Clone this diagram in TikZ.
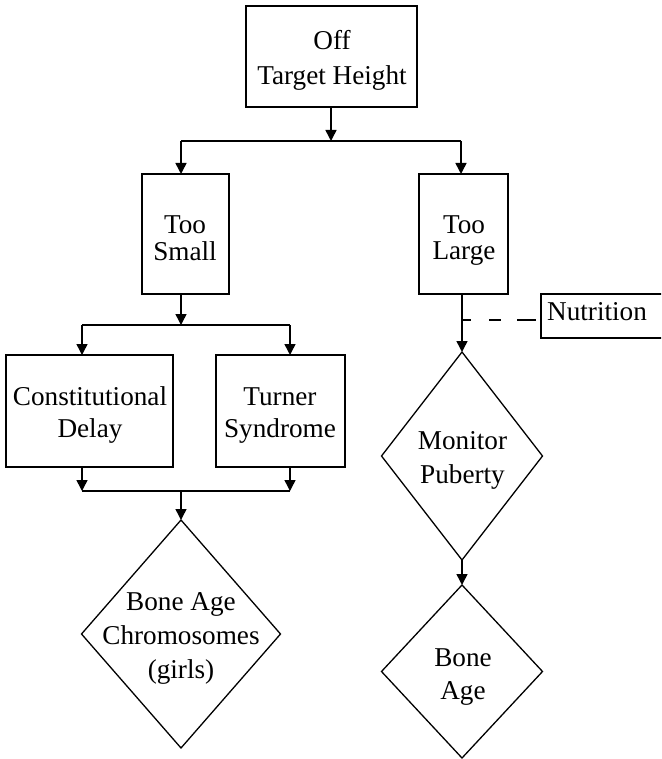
\documentclass[tikz,border=0pt]{standalone}
\usepackage{fontspec}
\setmainfont{Liberation Serif}
\usetikzlibrary{shapes.geometric,arrows.meta}
\begin{document}
\begin{tikzpicture}[x=1pt,y=-1pt,
  box/.style={draw,line width=1.8pt,inner sep=0pt,outer sep=0pt},
  dia/.style={diamond,draw,line width=1.3pt,inner sep=0pt,outer sep=0pt},
  txt/.style={inner sep=0pt,align=center,anchor=base,font=\fontsize{27.2}{34}\selectfont},
  arr/.style={line width=1.5pt,-{Triangle[length=11pt,width=11pt]}},
  ln/.style={line width=1.5pt}]
\useasboundingbox (0,0) rectangle (661,759);
\clip (0,0) rectangle (661,759);
% boxes
\node[box,minimum width=171pt,minimum height=101pt] (top) at (331.5,56.5) {};
\node[txt,font=\fontsize{27.2}{35}\selectfont] (topt) at (332,85) {Off\\Target Height};
\node[box,minimum width=87pt,minimum height=120pt] (small) at (185.5,234) {};
\node[txt,font=\fontsize{27.2}{27}\selectfont] (smallt) at (185,260) {Too\\Small};
\node[box,minimum width=89pt,minimum height=120pt] (large) at (463.5,234) {};
\node[txt,font=\fontsize{27.2}{26}\selectfont] (larget) at (464,259) {Too\\Large};
\node[box,minimum width=167pt,minimum height=112pt] (const) at (89.5,411) {};
\node[txt,font=\fontsize{27.2}{32}\selectfont] (constt) at (90,437) {Constitutional\\Delay};
\node[box,minimum width=129pt,minimum height=112pt] (turner) at (280.5,411) {};
\node[txt,font=\fontsize{27.2}{32}\selectfont] (turnert) at (280,437) {Turner\\Syndrome};
\node[box,minimum width=130pt,minimum height=44pt] (nutr) at (606,316) {};
\node[txt] (nutrt) at (597,320) {Nutrition};
% diamonds
\node[dia,minimum width=199pt,minimum height=228pt] (bac) at (181,634) {};
\node[txt,font=\fontsize{27.2}{34}\selectfont] (bact) at (181,678) {Bone Age\\Chromosomes\\(girls)};
\node[dia,minimum width=161pt,minimum height=208pt] (mp) at (462,456) {};
\node[txt] (mpt) at (462.5,483) {Monitor\\Puberty};
\node[dia,minimum width=161pt,minimum height=173pt] (ba) at (462,671.5) {};
\node[txt,font=\fontsize{27.2}{33}\selectfont] (bat) at (463,699) {Bone\\Age};
% junction coordinates
\coordinate (j1) at (331,141);
\coordinate (j1l) at (181,141);
\coordinate (j1r) at (461,141);
\coordinate (s1) at (181,294);
\coordinate (j2) at (181,325);
\coordinate (j2l) at (82,325);
\coordinate (j2r) at (290,325);
\coordinate (c1) at (82,467);
\coordinate (t1) at (290,467);
\coordinate (j3l) at (82,491);
\coordinate (j3r) at (290,491);
\coordinate (j3) at (181,491);
\coordinate (l1) at (462,294);
\coordinate (nd) at (462,320);
% connectors
\draw[arr] (top.south -| j1) -- (j1);
\draw[ln] (j1l) -- (j1r);
\draw[arr] (j1l) -- (j1l |- small.north);
\draw[arr] (j1r) -- (j1r |- large.north);
\draw[arr] (s1) -- (j2);
\draw[ln] (j2l) -- (j2r);
\draw[arr] (j2l) -- (j2l |- const.north);
\draw[arr] (j2r) -- (j2r |- turner.north);
\draw[arr] (c1) -- (j3l);
\draw[arr] (t1) -- (j3r);
\draw[ln] (j3l) -- (j3r);
\draw[arr] (j3) -- (bac.north);
\draw[arr] (l1) -- (mp.north);
\draw[line width=1.5pt,dash pattern={on 9pt off 18pt on 12pt off 16pt on 19pt off 10pt}] (nd) -- (nd -| nutr.west);
\draw[arr] (mp.south) -- (ba.north);
\end{tikzpicture}
\end{document}
